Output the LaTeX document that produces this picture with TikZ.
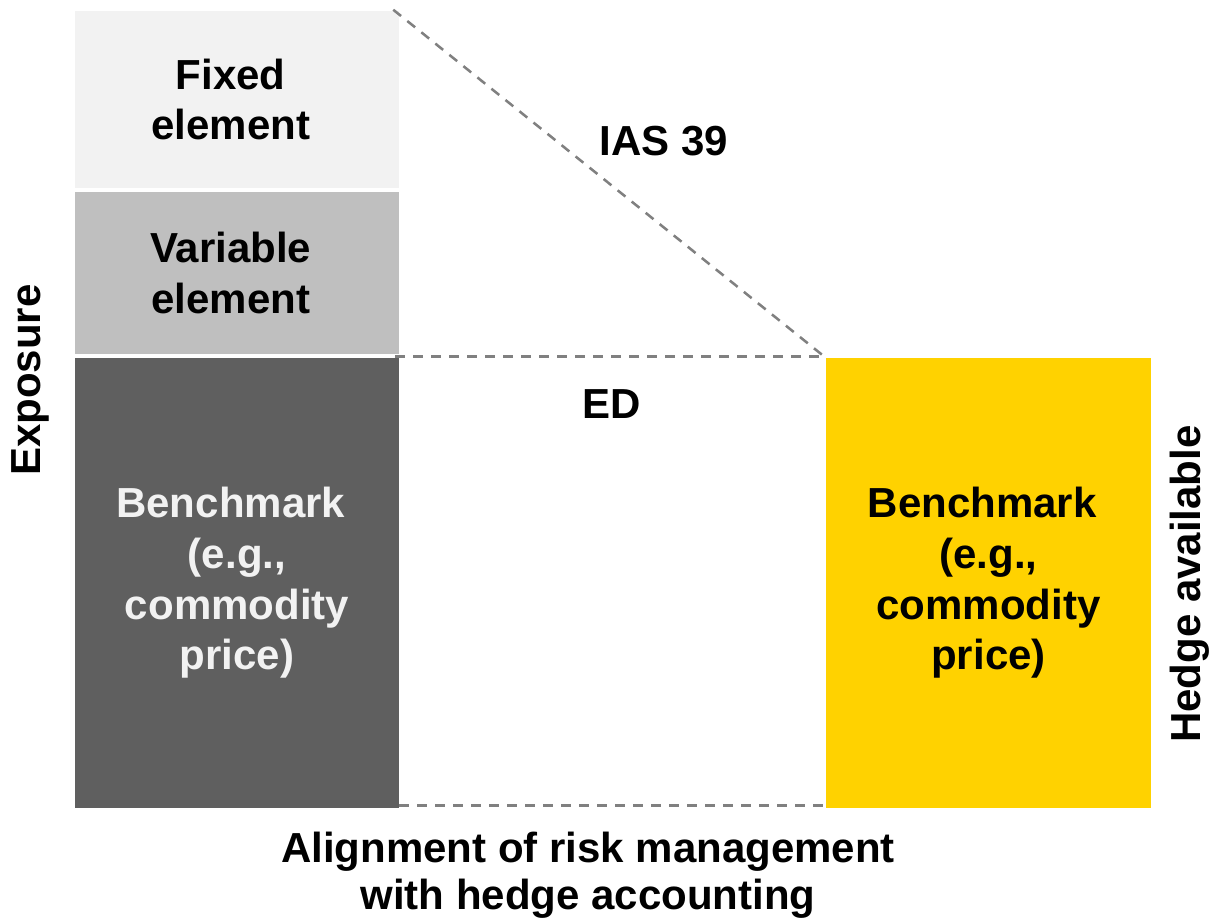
\documentclass[tikz,border=0pt]{standalone}
\usepackage{fontspec}
\setmainfont{Liberation Sans}
\usepackage{tikz}
\definecolor{fixedgray}{HTML}{F2F2F2}
\definecolor{vargray}{HTML}{BFBFBF}
\definecolor{darkgray}{HTML}{5F5F5F}
\definecolor{hedgeyellow}{HTML}{FFD200}
\definecolor{guidegray}{HTML}{808080}
\tikzset{
  part/.style={inner sep=0pt,align=center,minimum width=243pt,
    font=\fontsize{31.5}{38}\selectfont\bfseries},
  label/.style={font=\fontsize{31.5}{35}\selectfont\bfseries,align=center},
  guide/.style={draw=guidegray,line width=1.9pt,dash pattern=on 7.5pt off 6pt}
}

\begin{document}
\begin{tikzpicture}[x=0.75pt,y=-0.75pt]
  \useasboundingbox (0,0) rectangle (1212,922);
  \node[part,fill=fixedgray,minimum height=132.75pt] (E-1) at (237,99.5) {Fixed\hspace*{0.3em}\\element\hspace*{0.3em}};
  \node[part,fill=vargray,minimum height=121.5pt] (E-2) at (237,273) {Variable\hspace*{0.3em}\\element\hspace*{0.3em}};
  \node[part,fill=darkgray,text=fixedgray,minimum height=337.5pt] (E-3) at (237,583) {Benchmark\hspace*{0.3em}\\(e.g.,\\commodity\\price)};
  \node[part,fill=hedgeyellow,minimum width=243.75pt,minimum height=337.5pt] (H-1) at (988.5,583) {Benchmark\hspace*{0.3em}\\(e.g.,\\commodity\\price)};
  \node[label] (L-1) at (664,141) {IAS 39};
  \node[label] (L-2) at (612,404) {ED};
  \node[label,rotate=90] (L-3) at (30,380) {Exposure};
  \node[label,rotate=90] (L-4) at (1190,584) {Hedge available};
  \node[label] (L-5) at (588,875) {Alignment of risk management\\with hedge accounting};
  \draw[guide] ([xshift=-4.5pt,yshift=0.75pt]E-1.north east) -- (H-1.north west);
  \draw[guide] ([xshift=-3pt,yshift=0.75pt]E-3.north east) -- ([yshift=0.75pt]H-1.north west);
  \draw[guide] ([yshift=2.25pt]E-3.south east) -- ([yshift=2.25pt]H-1.south west);
\end{tikzpicture}
\end{document}
